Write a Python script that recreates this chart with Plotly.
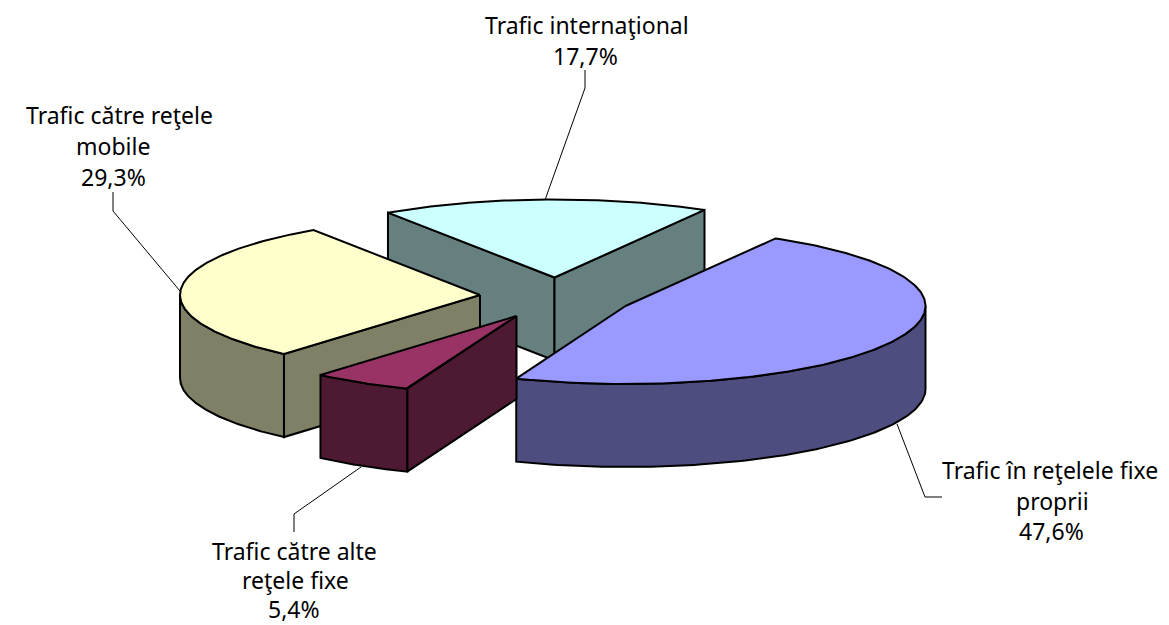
import numpy as np
import plotly.graph_objects as go

# --- data ---
categories = ["Trafic în reţelele fixe proprii", "Trafic către alte reţele fixe",
              "Trafic către reţele mobile", "Trafic internaţional"]
values = [47.6, 5.4, 29.3, 17.7]
value_labels = ["47,6%", "5,4%", "29,3%", "17,7%"]
label_lines = [["Trafic în reţelele fixe", "proprii"],
               ["Trafic către alte", "reţele fixe"],
               ["Trafic către reţele", "mobile"],
               ["Trafic internaţional"]]

# --- pie geometry / style ---
first_angle = 30.0
RX, RY, DEPTH = 300.0, 78.0, 83.0
centers = [(625.5, 306), (516.5, 316), (480, 295), (554.5, 277.5)]
top_colors = ["#9999ff", "#993366", "#ffffcc", "#ccffff"]
side_colors = ["#4d4d80", "#4d1933", "#808066", "#668080"]
draw_order = [3, 2, 0, 1]
label_x = [[1050, 1052, 1051], [294, 295, 294], [119, 113, 113], [587, 585]]
label_y = [[470, 500.5, 531], [551, 580, 609], [115, 146, 176.5], [25, 56]]
leaders = [([897, 925, 942], [424, 497, 497]),
           ([361, 294, 294], [467, 514, 532]),
           ([180, 113, 113], [291, 211, 192]),
           ([545, 585, 585], [200, 88, 70])]
FONT = dict(family="Noto Sans", size=23, color="#000000")


def pt(c, th, drop=0.0):
    t = np.radians(th)
    return c[0] + RX * np.sin(t), c[1] - RY * np.cos(t) + drop


fig = go.Figure()


def poly(xs, ys, color):
    fig.add_trace(go.Scatter(x=list(xs) + [xs[0]], y=list(ys) + [ys[0]], mode="lines",
                             fill="toself", fillcolor=color,
                             line=dict(color="#000000", width=2),
                             hoverinfo="skip", showlegend=False))


shares = np.array(values) / sum(values) * 360.0
starts = first_angle + np.concatenate([[0], np.cumsum(shares)[:-1]])

for i in draw_order:
    c, a0, a1 = centers[i], starts[i], starts[i] + shares[i]
    # inner walls, visible when their outward normal faces the viewer
    for edge, normal in ((a0, a0 - 90), (a1, a1 + 90)):
        if np.cos(np.radians(normal)) < 0:
            ex, ey = pt(c, edge)
            poly([c[0], ex, ex, c[0]], [c[1], ey, ey + DEPTH, c[1] + DEPTH], side_colors[i])
    # outer rim: front half of the ellipse only
    lo, hi = max(a0, 90.0), min(a1, 270.0)
    if hi > lo:
        th = np.linspace(lo, hi, 120)
        x, y = pt(c, th)
        poly(np.r_[x, x[::-1]], np.r_[y, (y + DEPTH)[::-1]], side_colors[i])
    # top face
    th = np.linspace(a0, a1, 200)
    x, y = pt(c, th)
    poly(np.r_[c[0], x], np.r_[c[1], y], top_colors[i])

for lx, ly in leaders:
    fig.add_trace(go.Scatter(x=lx, y=ly, mode="lines", line=dict(color="#000000", width=1),
                             hoverinfo="skip", showlegend=False))

for xs, ys, lines, v in zip(label_x, label_y, label_lines, value_labels):
    for px, py, s in zip(xs, ys, lines + [v]):
        fig.add_annotation(x=px, y=py, text=s, showarrow=False, font=FONT,
                           xanchor="center", yanchor="middle")

fig.update_layout(width=1169, height=625, margin=dict(l=0, r=0, t=0, b=0),
                  paper_bgcolor="#ffffff", plot_bgcolor="#ffffff", showlegend=False,
                  xaxis=dict(range=[0, 1169], visible=False, fixedrange=True),
                  yaxis=dict(range=[625, 0], visible=False, fixedrange=True))
fig.write_html("out.html", config=dict(displayModeBar=False),
               post_script="document.body.style.margin='0';document.documentElement.style.overflow='hidden';")
